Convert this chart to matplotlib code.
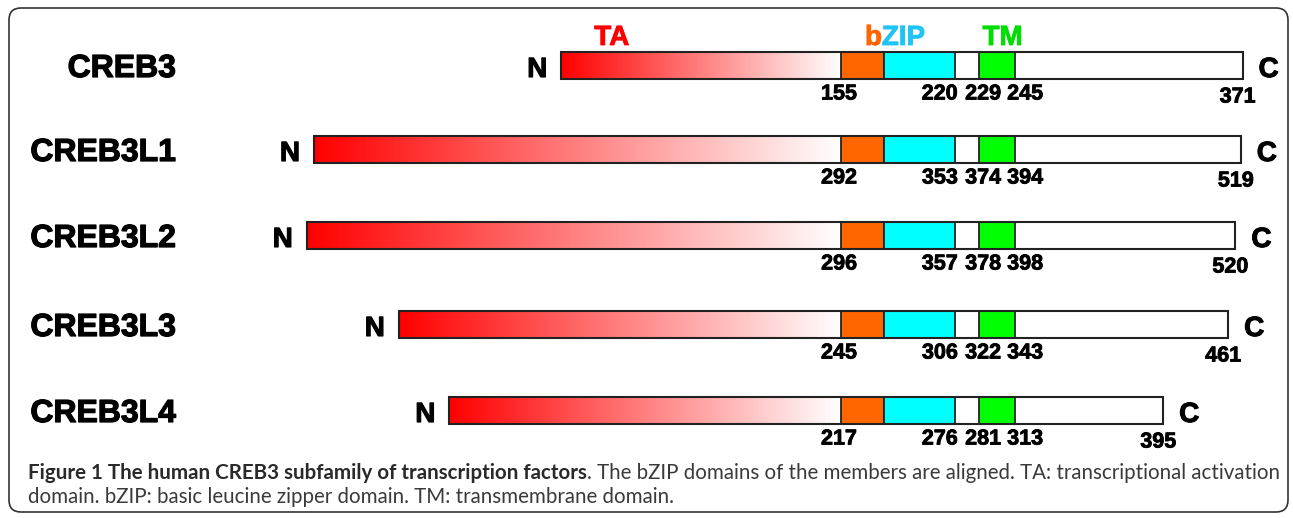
import matplotlib
matplotlib.use("Agg")
import matplotlib.pyplot as plt
import matplotlib.patheffects as pe
from matplotlib import font_manager
import numpy as np
from matplotlib.patches import Rectangle, FancyBboxPatch

# residue numbers for each family member (human)
names = ["CREB3", "CREB3L1", "CREB3L2", "CREB3L3", "CREB3L4"]
length = [371, 519, 520, 461, 395]
bzip_start = [155, 292, 296, 245, 217]
bzip_end = [220, 353, 357, 306, 276]
tm_start = [229, 374, 378, 322, 281]
tm_end = [245, 394, 398, 343, 313]

domain_labels = ["TA", "b", "ZIP", "TM"]
caption_bold = "Figure 1 The human CREB3 subfamily of transcription factors"
caption_rest = ". The bZIP domains of the members are aligned. TA: transcriptional activation"
caption_line2 = "domain. bZIP: basic leucine zipper domain. TM: transmembrane domain."

# schematic layout: N-term and C-term tails to scale, domain boxes drawn at fixed width
BASIC_W, BZIP_W, TM_X0, TM_X1 = 24, 63, 76.5, 96.5
PX_PER_AA = 1.805
ALIGN_PX = 841
W, H = 1293, 518
ROW_Y = [65.5, 149.5, 235.5, 324.5, 410.5]
BAR_H = 27

RED, ORANGE, CYAN, GREEN = "#ff0000", "#ff6600", "#00ffff", "#00ff00"
EDGE = "#222222"
FONT = "Liberation Sans"


def heavy(color="black", w=0.9):
    return [pe.Stroke(linewidth=w, foreground=color), pe.Normal()]


# narrow face for the caption if there is one, else Lato
try:
    font_manager.findfont("Liberation Sans Narrow", fallback_to_default=False)
    CAP_FONT = "Liberation Sans Narrow"
except ValueError:
    CAP_FONT = "Lato"

fig = plt.figure(figsize=(W / 100, H / 100), dpi=100)
pix = fig.add_axes([0, 0, 1, 1])
pix.set_xlim(0, W)
pix.set_ylim(H, 0)
pix.axis("off")
ax = fig.add_axes([0, 0, 1, 1])
ax.set_xlim(-ALIGN_PX / PX_PER_AA, (W - ALIGN_PX) / PX_PER_AA)
ax.set_ylim(H, 0)
ax.axis("off")
ax.patch.set_alpha(0)

pix.add_patch(FancyBboxPatch((9, 8), 1279, 504, boxstyle="round,pad=0,rounding_size=12",
                             fc="white", ec="#333333", lw=1.2))

grad = np.linspace(0, 1, 256)
img = np.stack([np.ones_like(grad), grad, grad], axis=-1)[None, :, :]

num_kw = dict(textcoords="offset pixels", fontsize=15.5, fontweight="bold",
              family=FONT, va="baseline", color="black", path_effects=heavy(w=0.6))

for i, name in enumerate(names):
    y = ROW_Y[i]
    y0, y1 = y - BAR_H / 2, y + BAR_H / 2
    x_left = -bzip_start[i]
    x_end = TM_X1 + (length[i] - tm_end[i])

    ax.add_patch(Rectangle((x_left, y0), x_end - x_left, BAR_H, fc="white", ec="none", zorder=1))
    ax.imshow(img, extent=(x_left, 0, y1, y0), aspect="auto", interpolation="bilinear", zorder=2)
    for xa, xb, c in [(0, BASIC_W, ORANGE), (BASIC_W, BZIP_W, CYAN), (TM_X0, TM_X1, GREEN)]:
        ax.add_patch(Rectangle((xa, y0), xb - xa, BAR_H, fc=c, ec=EDGE, lw=1.3, zorder=3))
    ax.add_patch(Rectangle((x_left, y0), x_end - x_left, BAR_H, fill=False, ec=EDGE, lw=1.5, zorder=4))

    pix.text(176, y + 11.5, name, ha="right", va="baseline", fontsize=23,
             fontweight="bold", family=FONT, path_effects=heavy(w=0.9))
    ax.annotate("N", (x_left, y + 11.5), xytext=(-14, 0), textcoords="offset pixels",
                ha="right", va="baseline", fontsize=20, fontweight="bold", family=FONT,
                path_effects=heavy(w=0.8))
    ax.annotate("C", (x_end, y + 11.5), xytext=(16, 0), textcoords="offset pixels",
                ha="left", va="baseline", fontsize=20, fontweight="bold", family=FONT,
                path_effects=heavy(w=0.8))

    yb = y + 34
    ax.annotate(str(bzip_start[i]), (0, yb), xytext=(-2, 0), ha="center", **num_kw)
    ax.annotate(str(bzip_end[i]), (BZIP_W, yb), xytext=(3, 0), ha="right", **num_kw)
    ax.annotate(str(tm_start[i]), (TM_X0, yb), xytext=(4, 0), ha="center", **num_kw)
    ax.annotate(str(tm_end[i]), (TM_X1, yb), xytext=(-8, 0), ha="left", **num_kw)
    ax.annotate(str(length[i]), (x_end, y + 37), xytext=(-5, 0), ha="center", **num_kw)

# domain names above the first row
lab_kw = dict(va="baseline", fontsize=20, fontweight="bold", family=FONT)
ax.text(-127, 45, domain_labels[0], color=RED, ha="center",
        path_effects=heavy(RED, 0.6), **lab_kw)
tb = ax.text(13.3, 45, domain_labels[1], color=ORANGE, ha="left",
             path_effects=heavy(ORANGE, 0.6), **lab_kw)
ax.annotate(domain_labels[2], xy=(1, 0), xycoords=tb, ha="left", va="bottom",
            color="#20c4f4", fontsize=20, fontweight="bold", family=FONT,
            path_effects=heavy("#20c4f4", 0.6))
ax.text((TM_X0 + TM_X1) / 2 + 3, 45, domain_labels[3], color="#00dd00", ha="center",
        path_effects=heavy("#00dd00", 0.6), **lab_kw)

# caption, sized so line 1 spans the same width as in the figure
r = fig.canvas.get_renderer()
probe1 = pix.text(0, 0, caption_bold, fontsize=12, fontweight="bold", family=CAP_FONT)
probe2 = pix.text(0, 0, caption_rest, fontsize=12, family=CAP_FONT)
wpx = probe1.get_window_extent(r).width + probe2.get_window_extent(r).width
probe1.remove()
probe2.remove()
cap_size = 12 * (1277 - 28) / wpx

t1 = pix.text(28, 479, caption_bold, fontsize=cap_size, fontweight="bold",
              family=CAP_FONT, va="baseline", color="#2a2a2a")
pix.annotate(caption_rest, xy=(1, 0), xycoords=t1, ha="left", va="bottom",
             fontsize=cap_size, family=CAP_FONT, color="#3a3a3a")
pix.text(28, 503, caption_line2, fontsize=cap_size, family=CAP_FONT,
         va="baseline", color="#3a3a3a")

fig.savefig("out.png", dpi=100)
